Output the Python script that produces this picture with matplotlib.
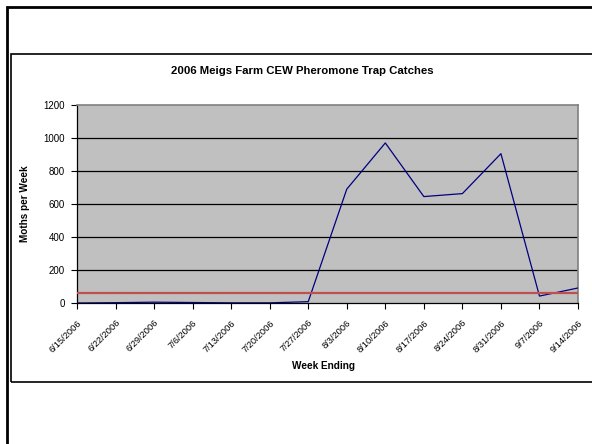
import matplotlib
matplotlib.use("Agg")
import matplotlib.pyplot as plt
from matplotlib.patches import Rectangle

weeks = ["6/15/2006", "6/22/2006", "6/29/2006", "7/6/2006", "7/13/2006", "7/20/2006",
         "7/27/2006", "8/3/2006", "8/10/2006", "8/17/2006", "8/24/2006", "8/31/2006",
         "9/7/2006", "9/14/2006"]
moths = [0, 2, 5, 3, 1, 1, 8, 690, 970, 645, 663, 905, 42, 91]
threshold = 62
yticks = [0, 200, 400, 600, 800, 1000, 1200]

plt.rcParams['font.family'] = ['Liberation Sans', 'DejaVu Sans']

W, H = 592, 444
fig = plt.figure(figsize=(W / 100, H / 100), dpi=100)
fig.patch.set_facecolor('white')

def px_rect(x0, y0, x1, y1, lw, color='black'):
    r = Rectangle((x0 / W, 1 - y1 / H), (x1 - x0) / W, (y1 - y0) / H,
                  transform=fig.transFigure, fill=False, lw=lw, edgecolor=color,
                  clip_on=False)
    fig.patches.append(r)

px_rect(7, 7, 620, 470, 2.0)
px_rect(10.5, 54, 610, 382, 1.2)

L, R, T, B = 77, 578, 105, 303
ax = fig.add_axes([L / W, 1 - B / H, (R - L) / W, (B - T) / H])
ax.set_facecolor('#C0C0C0')

x = list(range(len(weeks)))
ax.plot(x, moths, color='#000080', lw=0.9, zorder=3)
ax.axhline(threshold, color='#C0504D', lw=1.6, zorder=4)

ax.set_xlim(0, len(weeks) - 1)
ax.set_ylim(0, 1200)
ax.set_yticks(yticks)
ax.set_yticklabels([str(v) for v in yticks], fontsize=7)
ax.set_xticks(x)
ax.set_xticklabels(weeks, fontsize=6.7, rotation=45, ha='right', rotation_mode='anchor')

for v in yticks[1:-1]:
    ax.axhline(v, color='black', lw=0.9, zorder=2)

ax.tick_params(axis='y', direction='out', length=4, width=0.8, pad=5)
ax.tick_params(axis='x', direction='out', length=4, width=0.8, pad=7)

for s in ['top', 'right']:
    ax.spines[s].set_color('#808080')
    ax.spines[s].set_linewidth(1.2)
for s in ['left', 'bottom']:
    ax.spines[s].set_color('black')
    ax.spines[s].set_linewidth(0.9)

fig.text(302 / W, 1 - 71 / H, "2006 Meigs Farm CEW Pheromone Trap Catches",
         ha='center', va='center', fontsize=8.2, fontweight='bold')
fig.text(323 / W, 1 - 366 / H, "Week Ending", ha='center', va='center',
         fontsize=7.2, fontweight='bold')
fig.text(25 / W, 1 - 204 / H, "Moths per Week", ha='center', va='center',
         fontsize=7.2, fontweight='bold', rotation=90)

fig.savefig("out.png", dpi=100)
